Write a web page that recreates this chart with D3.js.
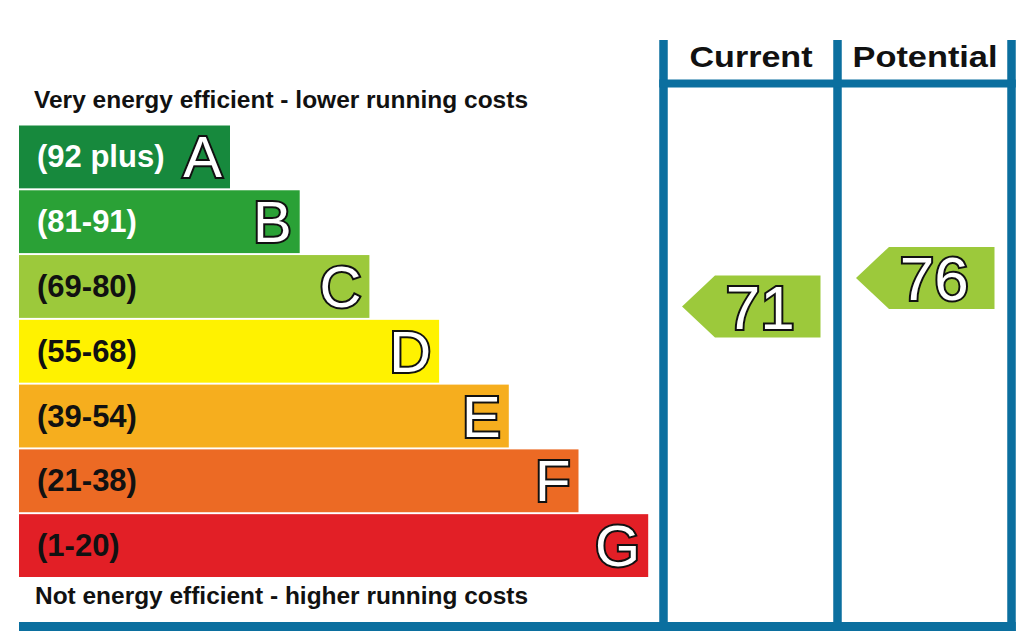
<!DOCTYPE html>
<html>
<head>
<meta charset="utf-8">
<script src="https://cdn.jsdelivr.net/npm/d3@7"></script>
<style>
  html, body { margin: 0; padding: 0; background: #fff; }
  svg { display: block; }
  text { font-family: "Liberation Sans", Arial, Helvetica, sans-serif; font-weight: bold; }
  text.outlined { font-weight: normal; }
</style>
</head>
<body>
<svg id="chart" width="1024" height="635"></svg>
<script>
// ---- data ----
const bands = ["A", "B", "C", "D", "E", "F", "G"];
const rangeLabels = ["(92 plus)", "(81-91)", "(69-80)", "(55-68)", "(39-54)", "(21-38)", "(1-20)"];
const bandMax = [100, 91, 80, 68, 54, 38, 20];
const bandMin = [92, 81, 69, 55, 39, 21, 1];
const bandColors = ["#17893d", "#2aa136", "#9cc93b", "#fff200", "#f6ae1e", "#ec6a24", "#e21f26"];
const labelColors = ["#ffffff", "#ffffff", "#111111", "#111111", "#111111", "#111111", "#111111"];
const columns = ["Current", "Potential"];
const ratings = [71, 76];
const topText = "Very energy efficient - lower running costs";
const bottomText = "Not energy efficient - higher running costs";

// ---- layout ----
const svg = d3.select("#chart");
const blue = "#0b6f9f";
const lineW = 8.5;

const y = d3.scaleBand().domain(bands).range([125.5, 577]).paddingInner(0.03).paddingOuter(0);
const xLen = d3.scaleLinear().domain([0, 7]).range([160.3, 648.2]);
const x0 = 19;

// bars
svg.selectAll("rect.bar").data(bands).join("rect")
  .attr("class", "bar")
  .attr("x", x0)
  .attr("y", d => y(d))
  .attr("width", (d, i) => xLen(i + 1) - x0)
  .attr("height", y.bandwidth())
  .attr("fill", (d, i) => bandColors[i]);

// range labels
svg.selectAll("text.range").data(bands).join("text")
  .attr("class", "range")
  .attr("x", 37)
  .attr("y", d => y(d) + y.bandwidth() / 2 + 10.5)
  .attr("font-size", 31)
  .attr("fill", (d, i) => labelColors[i])
  .text((d, i) => rangeLabels[i]);

// band letters
svg.selectAll("text.letter").data(bands).join("text")
  .attr("class", "letter outlined")
  .attr("x", (d, i) => xLen(i + 1) - 8)
  .attr("y", d => y(d) + y.bandwidth() / 2 + 20.5)
  .attr("text-anchor", "end")
  .attr("font-size", 58)
  .attr("fill", "#fff")
  .attr("stroke", "#111")
  .attr("stroke-width", 4)
  .attr("paint-order", "stroke")
  .text(d => d);

// top / bottom captions
svg.append("text").attr("x", 34).attr("y", 107.5).attr("font-size", 23)
  .attr("fill", "#111").attr("textLength", 494).attr("lengthAdjust", "spacingAndGlyphs")
  .text(topText);
svg.append("text").attr("x", 35).attr("y", 603.5).attr("font-size", 23)
  .attr("fill", "#111").attr("textLength", 493).attr("lengthAdjust", "spacingAndGlyphs")
  .text(bottomText);

// columns
const xc = d3.scaleBand().domain(columns).range([663.5, 1011.5]);
const colEdges = columns.map(c => xc(c)).concat([xc(columns[columns.length - 1]) + xc.step()]);

// header text
const headerLens = [123, 145];
svg.selectAll("text.header").data(columns).join("text")
  .attr("class", "header")
  .attr("x", d => xc(d) + xc.bandwidth() / 2 + 0.5)
  .attr("y", 66.5)
  .attr("text-anchor", "middle")
  .attr("font-size", 30)
  .attr("fill", "#111")
  .attr("textLength", (d, i) => headerLens[i])
  .attr("lengthAdjust", "spacingAndGlyphs")
  .text(d => d);

// arrows
function ratingY(v) {
  const i = bands.findIndex((b, k) => v >= bandMin[k] && v <= bandMax[k]);
  const s = d3.scaleLinear().domain([bandMax[i], bandMin[i]]).range([y(bands[i]), y(bands[i]) + y.bandwidth()]);
  return { cy: s(v), color: bandColors[i] };
}
const arrowH = 62;
const notch = 33;
columns.forEach((c, i) => {
  const { cy, color } = ratingY(ratings[i]);
  const tip = xc(c) + 18.5;
  const right = xc(c) + xc.step() - 17;
  const pts = [[tip, cy], [tip + notch, cy - arrowH / 2], [right, cy - arrowH / 2], [right, cy + arrowH / 2], [tip + notch, cy + arrowH / 2]];
  svg.append("path").attr("d", d3.line()(pts) + "Z").attr("fill", color);
  svg.append("text")
    .attr("class", "outlined")
    .attr("x", (tip + right) / 2 + 9)
    .attr("y", cy + 22.5)
    .attr("text-anchor", "middle")
    .attr("font-size", 62)
    .attr("fill", "#fff")
    .attr("stroke", "#111")
    .attr("stroke-width", 4)
    .attr("paint-order", "stroke")
    .text(ratings[i]);
});

// frame lines
const frameTop = 40, frameBottom = 631;
colEdges.forEach(xe => {
  svg.append("rect").attr("x", xe - lineW / 2).attr("y", frameTop)
    .attr("width", lineW).attr("height", frameBottom - frameTop).attr("fill", blue);
});
svg.append("rect").attr("x", colEdges[0] - lineW / 2).attr("y", 79.5)
  .attr("width", colEdges[colEdges.length - 1] - colEdges[0] + lineW).attr("height", 8).attr("fill", blue);
svg.append("rect").attr("x", x0).attr("y", 622)
  .attr("width", colEdges[colEdges.length - 1] + lineW / 2 - x0).attr("height", 9).attr("fill", blue);
</script>
</body>
</html>
